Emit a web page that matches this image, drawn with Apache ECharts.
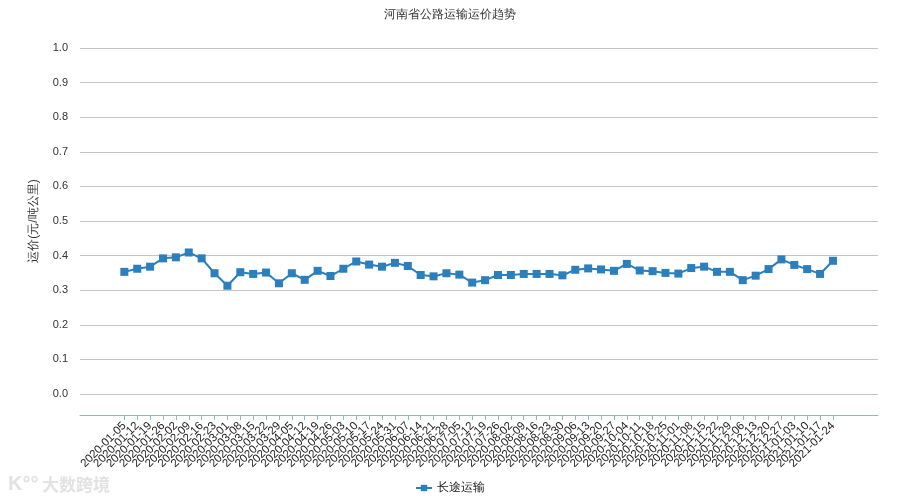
<!DOCTYPE html>
<html><head><meta charset="utf-8">
<script src="https://cdn.jsdelivr.net/npm/echarts@6/dist/echarts.min.js"></script>
<style>html,body{margin:0;padding:0;background:#fff}#c{width:900px;height:500px}</style>
</head><body><div id="c"></div>
<script>
const categories = ['2020-01-05','2020-01-12','2020-01-19','2020-01-26','2020-02-02','2020-02-09','2020-02-16','2020-02-23','2020-03-01','2020-03-08','2020-03-15','2020-03-22','2020-03-29','2020-04-05','2020-04-12','2020-04-19','2020-04-26','2020-05-03','2020-05-10','2020-05-17','2020-05-24','2020-05-31','2020-06-07','2020-06-14','2020-06-21','2020-06-28','2020-07-05','2020-07-12','2020-07-19','2020-07-26','2020-08-02','2020-08-09','2020-08-16','2020-08-23','2020-08-30','2020-09-06','2020-09-13','2020-09-20','2020-09-27','2020-10-04','2020-10-11','2020-10-18','2020-10-25','2020-11-01','2020-11-08','2020-11-15','2020-11-22','2020-11-29','2020-12-06','2020-12-13','2020-12-20','2020-12-27','2021-01-03','2021-01-10','2021-01-17','2021-01-24'];
const longHaul = [0.353,0.362,0.368,0.392,0.395,0.409,0.392,0.349,0.313,0.352,0.347,0.351,0.320,0.349,0.330,0.356,0.341,0.362,0.383,0.374,0.368,0.379,0.370,0.344,0.340,0.349,0.345,0.322,0.329,0.344,0.344,0.347,0.347,0.347,0.343,0.359,0.363,0.360,0.356,0.376,0.357,0.355,0.350,0.348,0.364,0.368,0.353,0.353,0.329,0.342,0.361,0.389,0.373,0.361,0.347,0.385];
const seriesName = '长途运输';
const titleText = '河南省公路运输运价趋势';
const yName = '运价(元/吨公里)';

const chart = echarts.init(document.getElementById('c'));
const font = '"Liberation Sans", Arial, sans-serif';
chart.setOption({
  animation: false,
  textStyle: {fontFamily: font},
  title: {text: titleText, left: 'center', top: 4, textStyle: {fontSize: 12, fontWeight: 'normal', color: '#333', fontFamily: font}},
  legend: {bottom: 1, left: 'center', itemWidth: 16, itemHeight: 8, textStyle: {fontSize: 12, color: '#222'}, data: [seriesName]},
  grid: [
    {left: 80, right: 22, top: 48, bottom: 106},
    {left: 117.9, right: 60.6, top: 48, bottom: 106}
  ],
  xAxis: [
    {gridIndex: 0, type: 'value', min: 0, max: 1, offset: 21,
     axisLine: {show: true, onZero: false, lineStyle: {color: '#92b6cf', width: 1}},
     axisTick: {show: false}, axisLabel: {show: false}, splitLine: {show: false}},
    {gridIndex: 1, type: 'category', data: categories, boundaryGap: true, offset: 21,
     axisLine: {show: false, onZero: false},
     axisTick: {show: true, alignWithLabel: true, length: 5, interval: 0, lineStyle: {color: '#92b6cf'}},
     axisLabel: {interval: 0, rotate: 45, fontSize: 11.5, color: '#222', margin: 9}}
  ],
  yAxis: [
    {gridIndex: 0, type: 'value', min: 0, max: 1, interval: 0.1,
     name: yName, nameLocation: 'middle', nameGap: 40, nameTextStyle: {fontSize: 12, color: '#333'},
     axisLine: {show: false}, axisTick: {show: false},
     axisLabel: {formatter: v => v.toFixed(1), fontSize: 11, color: '#333', margin: 12},
     splitLine: {show: true, lineStyle: {color: '#c4c4c4', width: 1}}},
    {gridIndex: 1, type: 'value', min: 0, max: 1, show: false}
  ],
  series: [{
    name: seriesName, type: 'line', xAxisIndex: 1, yAxisIndex: 1, data: longHaul,
    symbol: 'rect', symbolSize: 8,
    lineStyle: {color: '#2a7fbc', width: 2},
    itemStyle: {color: '#2a7fbc'}
  }],
  graphic: [
    {type: 'text', left: 8, top: 474, style: {text: 'K°°', fontSize: 20, fontWeight: 'bold', fill: '#e2e2e2', fontFamily: font}},
    {type: 'text', left: 42, top: 476, style: {text: '大数跨境', fontSize: 17, fontWeight: 'bold', fill: '#e2e2e2', fontFamily: '"Noto Sans CJK SC", sans-serif'}}
  ]
});
</script></body></html>
